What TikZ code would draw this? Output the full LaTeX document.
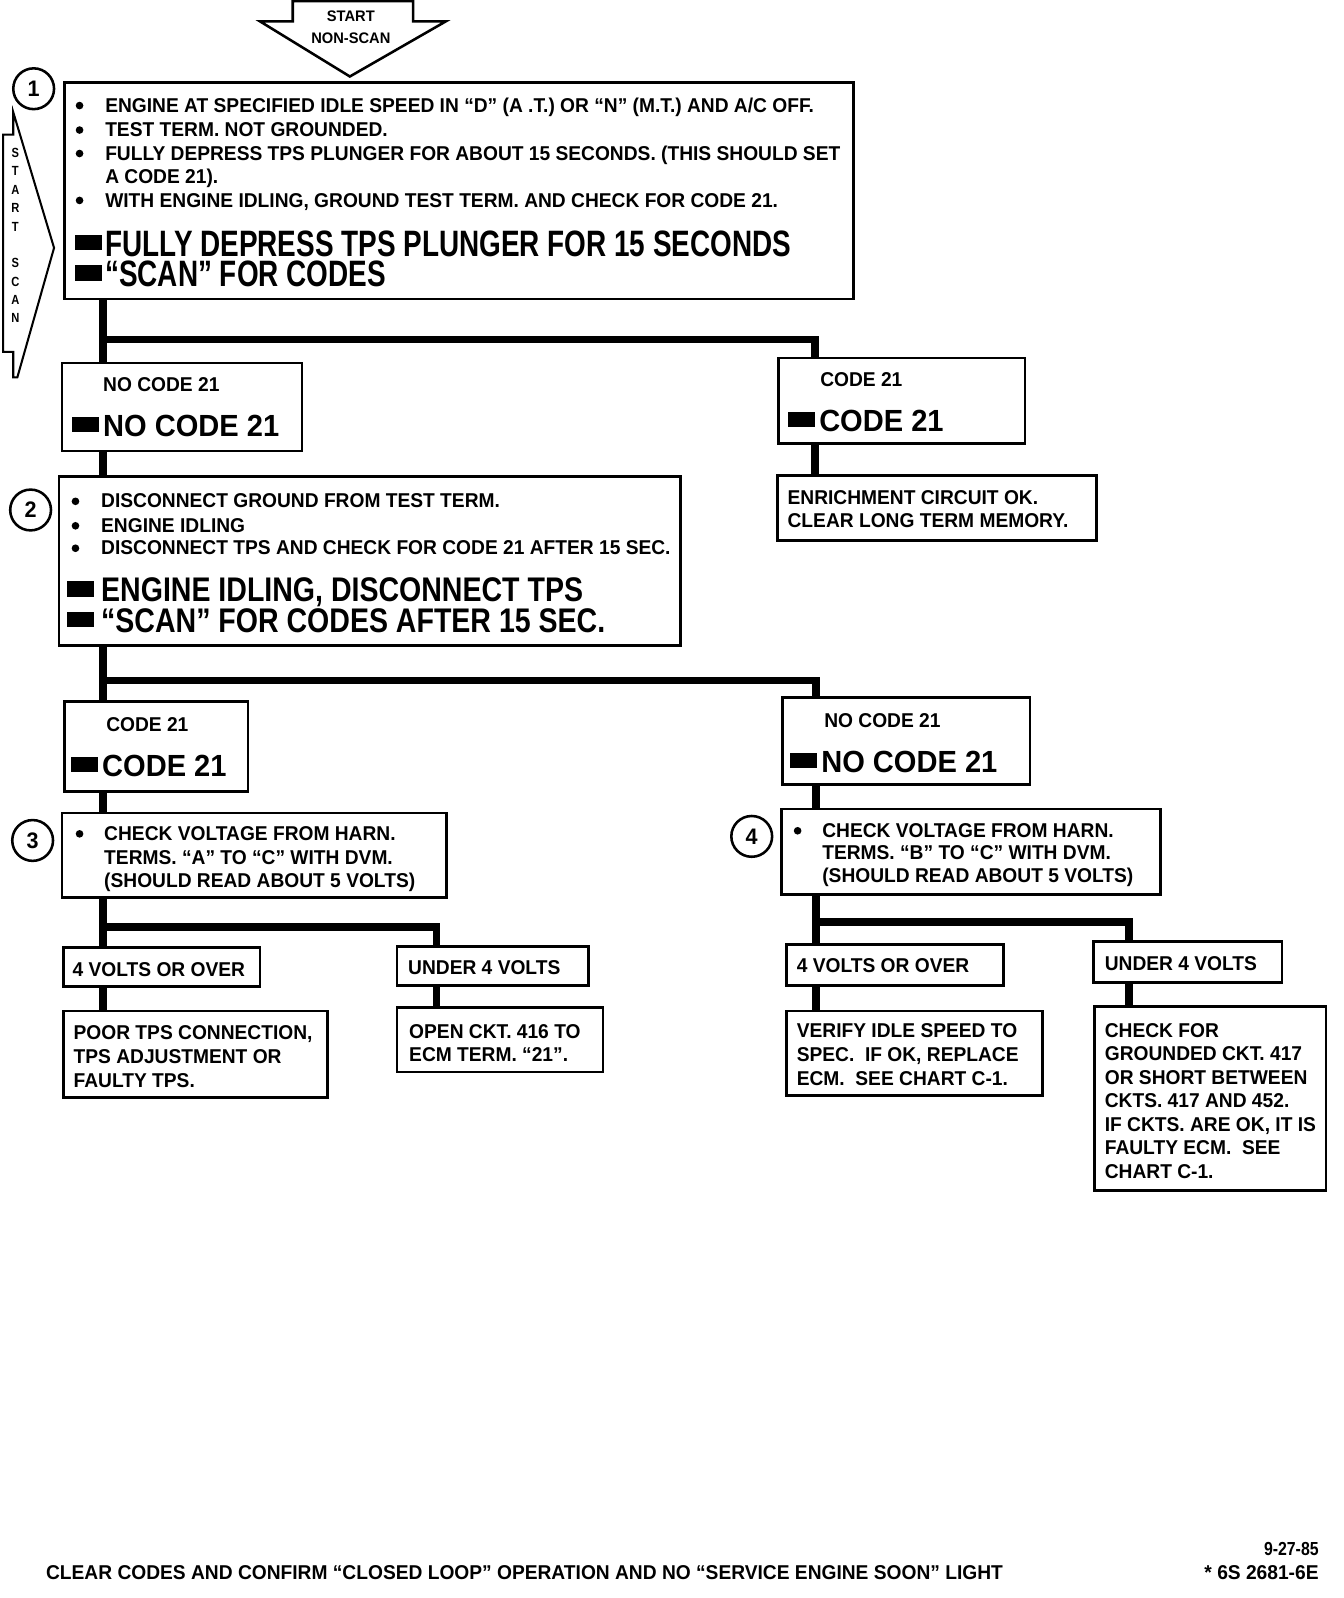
\documentclass[tikz,border=0pt]{standalone}
\usepackage{fontspec}
\setmainfont{Liberation Sans}[FakeStretch=0.96]
\newfontfamily\bigfA{Liberation Sans}[FakeStretch=0.76]
\newfontfamily\bigfB{Liberation Sans}[FakeStretch=0.835]
\newfontfamily\bigfC{Liberation Sans}[FakeStretch=0.95]
\newfontfamily\smallf{Liberation Sans}[FakeStretch=0.84]
\newcommand\sm{\fontsize{19.6}{23}\selectfont\bfseries}
\newcommand\bgA{\bigfA\fontsize{36}{40}\selectfont\bfseries}
\newcommand\bgB{\bigfB\fontsize{33.5}{38}\selectfont\bfseries}
\newcommand\bgC{\bigfC\fontsize{30}{34}\selectfont\bfseries}
\newcommand\numf{\fontsize{22}{22}\selectfont\bfseries}
\newcommand\vlf{\smallf\fontsize{13}{13}\selectfont\bfseries}
\newcommand\stf{\fontsize{15}{15}\selectfont\bfseries}
\newcommand\blk[1]{\rule[#1]{27pt}{15pt}}
\begin{document}
\begin{tikzpicture}[x=1pt,y=-1pt,
 box/.style={draw,line width=2.5pt,inner sep=0pt,outer sep=0pt},
 conn/.style={line width=7.5pt},
 txt/.style={anchor=base west,inner sep=0pt,font=\sm},
 big/.style={anchor=base west,inner sep=0pt,text height=24pt,text depth=0pt},
 bul/.style={circle,fill,inner sep=0pt,minimum size=7.5pt},
 num/.style={circle,draw,line width=2.5pt,minimum size=40pt,inner sep=0pt,font=\numf},
 vl/.style={inner sep=0pt,font=\vlf}]
\useasboundingbox (0,0) rectangle (1317.6,1566.7);

% start arrows
\draw[line width=2.5pt,line join=miter] (287,1) -- (405,1) -- (405,21) -- (437,21) -- (343,75) -- (255,21) -- (287,21) -- cycle;
\node[inner sep=0pt,font=\stf] (st1) at (344,16) {START};
\node[inner sep=0pt,font=\stf] (st2) at (344,37) {NON-SCAN};
\draw[line width=2pt,line join=miter] (13,110) -- (53,243) -- (17,370) -- (13,370) -- (13,345) -- (3,345) -- (3,132) -- (13,132) -- cycle;
\foreach \l [count=\i] in {S,T,A,R,T} \node[vl] (ss\i) at (15,{132+18*\i}) {\l};
\foreach \l [count=\i] in {S,C,A,N} \node[vl] (sc\i) at (15,{240+18*\i}) {\l};

% boxes
\node[box,minimum width=774pt,minimum height=212pt] (box1) at (450,187) {};
\node[box,minimum width=235pt,minimum height=86pt] (nc1) at (178.5,399) {};
\node[box,minimum width=242pt,minimum height=84pt] (c1) at (884,393) {};
\node[box,minimum width=313pt,minimum height=64pt] (enr) at (918.5,498) {};
\node[box,minimum width=609pt,minimum height=166pt] (box2) at (362.5,550) {};
\node[box,minimum width=180pt,minimum height=88pt] (c2) at (153,732) {};
\node[box,minimum width=243pt,minimum height=85pt] (nc2) at (888.5,726.5) {};
\node[box,minimum width=377pt,minimum height=83pt] (box3) at (249.5,838.5) {};
\node[box,minimum width=372pt,minimum height=84pt] (box4) at (952,835) {};
\node[box,minimum width=193pt,minimum height=38pt] (ov3) at (158.5,948) {};
\node[box,minimum width=188pt,minimum height=38pt] (un3) at (483,947) {};
\node[box,minimum width=259pt,minimum height=85pt] (poor) at (191.5,1033.5) {};
\node[box,minimum width=202pt,minimum height=63pt] (open) at (490,1019.5) {};
\node[box,minimum width=213pt,minimum height=40pt] (ov4) at (877.5,946) {};
\node[box,minimum width=185pt,minimum height=40pt] (un4) at (1164.5,943) {};
\node[box,minimum width=251pt,minimum height=83pt] (verify) at (896.5,1032.5) {};
\node[box,minimum width=227pt,minimum height=180pt] (check) at (1186.5,1077) {};

% circled numbers
\node[num] (n1) at (33,87) {1};
\node[num] (n2) at (30,500) {2};
\node[num] (n3) at (32,824) {3};
\node[num] (n4) at (737,820) {4};

% connectors
\coordinate (j1) at (101,333); \coordinate (j1r) at (799,333);
\coordinate (j2) at (101,667); \coordinate (j2r) at (800,667);
\coordinate (j3) at (101,909); \coordinate (j3r) at (428,909);
\coordinate (j4) at (800,904); \coordinate (j4r) at (1107,904);
\draw[conn] (box1.south -| j1) -- (nc1.north -| j1);
\draw[conn,line join=miter] (j1) -- (j1r) -- (c1.north -| j1r);
\draw[conn] (c1.south -| j1r) -- (enr.north -| j1r);
\draw[conn] (nc1.south -| j1) -- (box2.north -| j1);
\draw[conn] (box2.south -| j2) -- (c2.north -| j2);
\draw[conn,line join=miter] (j2) -- (j2r) -- (nc2.north -| j2r);
\draw[conn] (c2.south -| j2) -- (box3.north -| j2);
\draw[conn] (nc2.south -| j2r) -- (box4.north -| j2r);
\draw[conn] (box3.south -| j3) -- (ov3.north -| j3);
\draw[conn,line join=miter] (j3) -- (j3r) -- (un3.north -| j3r);
\draw[conn] (ov3.south -| j3) -- (poor.north -| j3);
\draw[conn] (un3.south -| j3r) -- (open.north -| j3r);
\draw[conn] (box4.south -| j4) -- (ov4.north -| j4);
\draw[conn,line join=miter] (j4) -- (j4r) -- (un4.north -| j4r);
\draw[conn] (ov4.south -| j4) -- (verify.north -| j4);
\draw[conn] (un4.south -| j4r) -- (check.north -| j4r);

% box 1 text
\foreach \y [count=\i] in {103.5,127.5,150.5,196.5} \node[bul] (b1\i) at (78,\y) {};
\node[txt] (t1a) at (103,110) {ENGINE AT SPECIFIED IDLE SPEED IN “D” (A .T.) OR “N” (M.T.) AND A/C OFF.};
\node[txt] (t1b) at (103,134) {TEST TERM. NOT GROUNDED.};
\node[txt] (t1c) at (103,157) {FULLY DEPRESS TPS PLUNGER FOR ABOUT 15 SECONDS.\ (THIS SHOULD SET};
\node[txt] (t1d) at (103,180) {A CODE 21).};
\node[txt] (t1e) at (103,203) {WITH ENGINE IDLING, GROUND TEST TERM. AND CHECK FOR CODE 21.};
\node[big,font=\bgA] (t1f) at (73,251) {\blk{6pt}\hspace{3pt}FULLY DEPRESS TPS PLUNGER FOR 15 SECONDS};
\node[big,font=\bgA] (t1g) at (73,281) {\blk{6pt}\hspace{3pt}“SCAN” FOR CODES};

% code boxes
\node[txt] (tnc1a) at (101,384) {NO CODE 21};
\node[big,font=\bgC] (tnc1b) at (70,428) {\blk{4pt}\hspace{4pt}NO CODE 21};
\node[txt] (tc1a) at (804,379) {CODE 21};
\node[big,font=\bgC] (tc1b) at (772,423) {\blk{4pt}\hspace{4pt}CODE 21};
\node[txt] (tc2a) at (104,717) {CODE 21};
\node[big,font=\bgC] (tc2b) at (69,761) {\blk{4pt}\hspace{4pt}CODE 21};
\node[txt] (tnc2a) at (808,713) {NO CODE 21};
\node[big,font=\bgC] (tnc2b) at (774,757) {\blk{4pt}\hspace{4pt}NO CODE 21};

% enrichment
\node[txt] (te1) at (772,495) {ENRICHMENT CIRCUIT OK.};
\node[txt] (te2) at (772,517) {CLEAR LONG TERM MEMORY.};

% box 2 text
\foreach \y [count=\i] in {491.5,515.5,537.5} \node[bul] (b2\i) at (74,\y) {};
\node[txt] (t2a) at (99,498) {DISCONNECT GROUND FROM TEST TERM.};
\node[txt] (t2b) at (99,522) {ENGINE IDLING};
\node[txt] (t2c) at (99,544) {DISCONNECT TPS AND CHECK FOR CODE 21 AFTER 15 SEC.};
\node[big,font=\bgB] (t2d) at (65,590) {\blk{5pt}\hspace{7pt}ENGINE IDLING, DISCONNECT TPS};
\node[big,font=\bgB] (t2e) at (65,620) {\blk{5pt}\hspace{7pt}“SCAN” FOR CODES AFTER 15 SEC.};

% box 3 / 4 text
\node[bul] (b3) at (78,817.5) {};
\node[txt] (t3a) at (102,824) {CHECK VOLTAGE FROM HARN.};
\node[txt] (t3b) at (102,848) {TERMS. “A” TO “C” WITH DVM.};
\node[txt] (t3c) at (102,870) {(SHOULD READ ABOUT 5 VOLTS)};
\node[bul] (b4) at (782,814.5) {};
\node[txt] (t4a) at (806,821) {CHECK VOLTAGE FROM HARN.};
\node[txt] (t4b) at (806,843) {TERMS. “B” TO “C” WITH DVM.};
\node[txt] (t4c) at (806,865) {(SHOULD READ ABOUT 5 VOLTS)};

% result boxes
\node[txt] (tov3) at (71,957) {4 VOLTS OR OVER};
\node[txt] (tun3) at (400,955) {UNDER 4 VOLTS};
\node[txt] (tov4) at (781,953) {4 VOLTS OR OVER};
\node[txt] (tun4) at (1083,951) {UNDER 4 VOLTS};
\foreach \t [count=\i] in {{POOR TPS CONNECTION,},{TPS ADJUSTMENT OR},{FAULTY TPS.}}
  \node[txt] (tp\i) at (72,{1019+23.5*(\i-1)}) {\t};
\foreach \t [count=\i] in {{OPEN CKT. 416 TO},{ECM TERM. “21”.}}
  \node[txt] (to\i) at (401,{1018+23*(\i-1)}) {\t};
\foreach \t [count=\i] in {{VERIFY IDLE SPEED TO},{SPEC.\ \ IF OK, REPLACE},{ECM.\ \ SEE CHART C-1.}}
  \node[txt] (tv\i) at (781,{1017+23.5*(\i-1)}) {\t};
\foreach \t [count=\i] in {{CHECK FOR},{GROUNDED CKT. 417},{OR SHORT BETWEEN},{CKTS. 417 AND 452.},{IF CKTS. ARE OK, IT IS},{FAULTY ECM.\ \ SEE},{CHART C-1.}}
  \node[txt] (tk\i) at (1083,{1017+23*(\i-1)}) {\t};

% footer
\node[txt] (foot) at (45,1549) {CLEAR CODES AND CONFIRM “CLOSED LOOP” OPERATION AND NO “SERVICE ENGINE SOON” LIGHT};
\node[txt,anchor=base east,font=\smallf\fontsize{18.5}{23}\selectfont\bfseries] (date) at (1293,1525) {9-27-85};
\node[txt,anchor=base east] (ref) at (1293,1549) {* 6S 2681-6E};
\end{tikzpicture}
\end{document}
